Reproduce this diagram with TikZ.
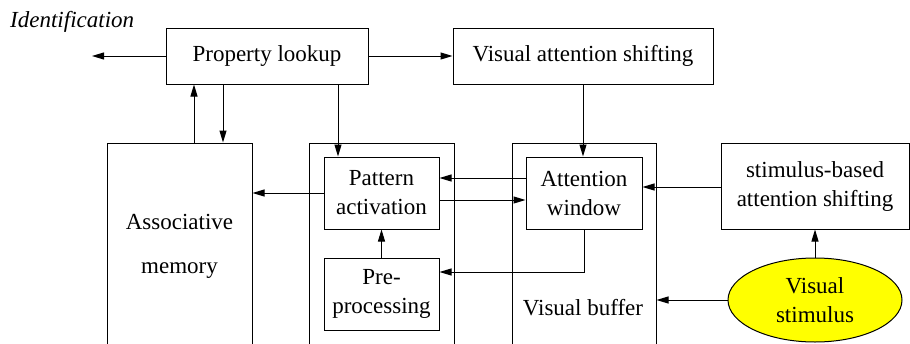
\documentclass[tikz,border=0pt]{standalone}
\usepackage{fontspec}
\setmainfont{Liberation Serif}
\usetikzlibrary{arrows.meta,shapes.geometric}
\definecolor{stimyellow}{RGB}{255,255,0}
\begin{document}
\begin{tikzpicture}[x=1pt,y=-1pt,
  txt/.style={font=\fontsize{23}{29}\selectfont, inner sep=0pt, align=center},
  box/.style={txt, draw, line width=1pt},
  arr/.style={-{Triangle[length=12pt,width=7pt]}, line width=1pt}]
  % page frame; the tall boxes run past the lower edge
  \clip (0,0) rectangle (910,343);

  % top row
  \node[box, minimum width=202pt, minimum height=56pt] (PL) at (267,56) {Property lookup};
  \node[box, minimum width=260pt, minimum height=56pt] (VAS) at (583,56) {Visual attention shifting};
  \node[txt, anchor=base west, font=\fontsize{23}{29}\selectfont\itshape] (ident) at (10,27) {Identification};
  \coordinate (out) at (92,56);

  % tall column boxes
  \node[box, minimum width=145pt, minimum height=227pt] (AM) at (179.5,256.5) {};
  \node[txt] (AMtext) at (179.5,246) {Associative\\[15pt]memory};
  \node[box, minimum width=145pt, minimum height=227pt] (PB) at (381.5,256.5) {};
  \node[box, minimum width=144pt, minimum height=227pt] (VB) at (584,256.5) {};
  \node[txt] (VBtext) at (583,308) {Visual buffer};

  % inner boxes
  \node[box, minimum width=115pt, minimum height=72pt] (PA) at (381.5,193) {Pattern\\activation};
  \node[box, minimum width=115pt, minimum height=72pt] (PP) at (381.5,294) {Pre-\\processing};
  \node[box, minimum width=116pt, minimum height=72pt] (AW) at (584,193) {Attention\\window};
  \node[box, minimum width=188pt, minimum height=86pt] (SB) at (815,186) {stimulus-based\\attention shifting};
  \node[txt, draw, line width=1pt, fill=stimyellow, ellipse, minimum width=174pt, minimum height=84pt] (VS) at (815,300) {Visual\\stimulus};

  % connectors
  \draw[arr] (PL.west) -- (out);
  \draw[arr] (PL.east) -- (VAS.west);
  \draw[arr] (194,0 |- AM.north) -- (194,0 |- PL.south);
  \draw[arr] (223,0 |- PL.south) -- (223,0 |- AM.north);
  \draw[arr] (338,0 |- PL.south) -- (338,0 |- PA.north);
  \draw[arr] (VAS.south) -- (VAS.south |- AW.north);
  \draw[arr] (PA.west |- 0,193) -- (AM.east |- 0,193);
  \draw[arr] (AW.west |- 0,178) -- (PA.east |- 0,178);
  \draw[arr] (PA.east |- 0,200) -- (AW.west |- 0,200);
  \draw[arr] (PP.north) -- (PA.south);
  \draw[arr] (AW.south) -- (AW.south |- 0,272) -- (PP.east |- 0,272);
  \draw[arr] (SB.west |- 0,187) -- (AW.east |- 0,187);
  \draw[arr] (VS.north) -- (SB.south);
  \draw[arr] (VS.west) -- (VB.east |- VS.west);
\end{tikzpicture}
\end{document}
